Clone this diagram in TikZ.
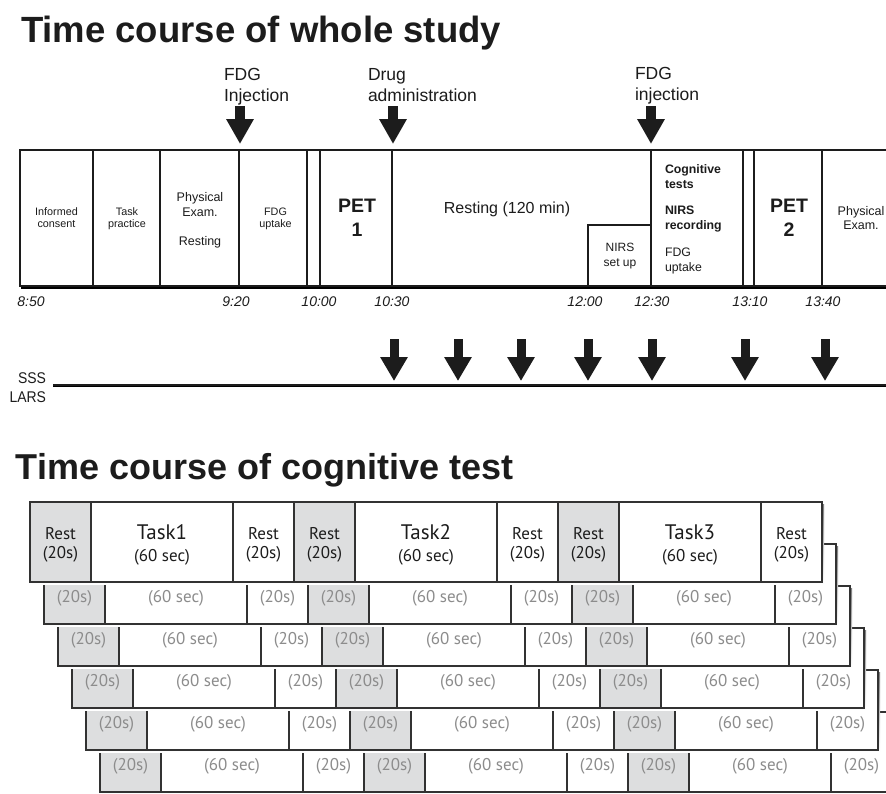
\documentclass[tikz,border=0pt]{standalone}
\usepackage{fontspec}
\setmainfont{Liberation Sans}
\newfontfamily\ptsans{PT Sans}
\usetikzlibrary{arrows.meta}
\definecolor{restgray}{RGB}{221,222,223}
\definecolor{celledge}{RGB}{50,50,50}
\definecolor{faint}{RGB}{140,140,140}
\definecolor{shade}{RGB}{212,212,212}
\definecolor{ink}{RGB}{28,28,28}
\newcommand\fsz[2]{\fontsize{#1}{#2}\selectfont}
\tikzset{
  frame/.style={draw=ink, line width=1.8pt},
  lbl/.style={inner sep=0pt, outer sep=0pt, align=center, text=ink},
  blockarrow/.style={line width=9.5pt, draw=ink, -{Triangle[length=25pt,width=26pt]}},
  smallarrow/.style={line width=9pt, draw=ink, -{Triangle[length=24pt,width=26pt]}},
  cell/.style={draw=celledge, line width=1.3pt, inner sep=0pt, outer sep=0pt, anchor=north west, minimum height=80pt},
  celltext/.style={inner sep=0pt, outer sep=0pt, align=center, font=\ptsans\fsz{17}{20}},
  tick/.style={inner sep=0pt, outer sep=0pt, anchor=base, font=\itshape\fsz{14}{14}, text=ink}
}
\begin{document}
\begin{tikzpicture}[x=1pt,y=-1pt]
\useasboundingbox (0,0) rectangle (886,793);
\clip (0,0) rectangle (886,793);
\fill[white] (0,0) rectangle (886,793);

% titles
\node[lbl, anchor=base west, font=\bfseries\fsz{36.5}{40}] (title1) at (21,42) {Time course of whole study};
\node[lbl, anchor=base west, font=\bfseries\fsz{36}{40}] (title2) at (16,479) {Time course of cognitive test};

% event labels and arrows at top
\node[lbl, anchor=north west, align=left, font=\fsz{17.5}{21}] (ev1) at (224,68) {FDG\\Injection};
\node[lbl, anchor=north west, align=left, font=\fsz{17.5}{21}] (ev2) at (368,68) {Drug\\administration};
\node[lbl, anchor=north west, align=left, font=\fsz{17.5}{21}] (ev3) at (635,67) {FDG\\injection};
\coordinate (a1s) at (240,106); \coordinate (a1e) at (240,144);
\coordinate (a2s) at (393,106); \coordinate (a2e) at (393,144);
\coordinate (a3s) at (651,106); \coordinate (a3e) at (651,144);
\draw[blockarrow] (a1s) -- (a1e);
\draw[blockarrow] (a2s) -- (a2e);
\draw[blockarrow] (a3s) -- (a3e);

% timeline frame
\draw[shade, line width=1.5pt] (21,287.8) -- (886,287.8);
\draw[frame] (890,150) -- (20,150) -- (20,286) -- (890,286);
\foreach \vx in {93,160,239,307,320,392,651,743,754,822}
  \draw[frame] (\vx,150) -- (\vx,286);
\draw[frame] (588,286) -- (588,225) -- (651,225);

% timeline texts
\node[lbl, anchor=north, font=\fsz{10.8}{12}] (consent) at (56.5,208) {Informed\\consent};
\node[lbl, anchor=north, font=\fsz{10.8}{12}] (practice) at (127,208) {Task\\practice};
\node[lbl, anchor=north, font=\fsz{12.5}{15}] (phys1) at (200,192) {Physical\\Exam.\\[14pt]Resting};
\node[lbl, anchor=north, font=\fsz{10.8}{12}] (uptake1) at (275.5,208) {FDG\\uptake};
\node[lbl, anchor=north, font=\bfseries\fsz{19.5}{24}] (pet1) at (357,199) {PET\\1};
\node[lbl, anchor=north, font=\fsz{16}{16}] (rest120) at (507,202) {Resting (120 min)};
\node[lbl, anchor=north, font=\fsz{12}{15}] (nirsset) at (620,243) {NIRS\\set up};
\node[lbl, anchor=north west, align=left, font=\fsz{12.3}{15}] (cogn) at (665,165)
  {\textbf{Cognitive}\\\textbf{tests}\\[11pt]\textbf{NIRS}\\\textbf{recording}\\[12pt]FDG\\uptake};
\node[lbl, anchor=north, font=\bfseries\fsz{19.5}{24}] (pet2) at (789,199) {PET\\2};
\node[lbl, anchor=north, font=\fsz{12.5}{14}] (phys2) at (861,206) {Physical\\Exam.};

% time ticks
\node[tick] (t850) at (31,306) {8:50};
\node[tick] (t920) at (236,306) {9:20};
\node[tick] (t1000) at (319,306) {10:00};
\node[tick] (t1030) at (392,306) {10:30};
\node[tick] (t1200) at (585,306) {12:00};
\node[tick] (t1230) at (652,306) {12:30};
\node[tick] (t1310) at (750,306) {13:10};
\node[tick] (t1340) at (823,306) {13:40};

% SSS / LARS line
\node[lbl, anchor=base east, font=\fsz{15.5}{15}] (sss) at (46,383) {\scalebox{0.9}[1]{SSS}};
\node[lbl, anchor=base east, font=\fsz{15.5}{15}] (lars) at (46,402) {\scalebox{0.9}[1]{LARS}};
\coordinate (sL) at (53,385); \coordinate (sR) at (886,385);
\draw[shade, line width=1.2pt] (53,386.8) -- (886,386.8);
\draw[ink, line width=2pt] (sL) -- (sR);
\foreach \bx [count=\k] in {394,458,521,588,652,745,825} {
  \coordinate (bt\k) at (\bx,339);
  \coordinate (bb\k) at (\bx,381);
  \draw[smallarrow] (bt\k) -- (bb\k);
}

% stacked cognitive test rows (back to front)
\foreach \i in {5,4,3,2,1} {
  \pgfmathsetmacro\xo{30+14*\i}
  \pgfmathsetmacro\yo{502+42*\i}
  \fill[shade] (\xo+2,\yo+2) rectangle ++(792,80);
  \foreach \ca/\cw/\cf/\cl [count=\j] in {0/61/restgray/{(20s)}, 61/142/white/{(60 sec)}, 203/61/white/{(20s)}, 264/61/restgray/{(20s)}, 325/142/white/{(60 sec)}, 467/61/white/{(20s)}, 528/61/restgray/{(20s)}, 589/142/white/{(60 sec)}, 731/61/white/{(20s)}} {
    \node[cell, fill=\cf, minimum width=\cw*1pt] (c\i-\j) at (\xo+\ca,\yo) {};
    \node[celltext, text=faint] (t\i-\j) at (\xo+\ca+\cw/2,\yo+54) {\cl};
  }
}
\fill[shade] (32,504) rectangle ++(792,80);
\foreach \ca/\cw/\cf/\cl [count=\j] in {0/61/restgray/Rest, 61/142/white/Task1, 203/61/white/Rest, 264/61/restgray/Rest, 325/142/white/Task2, 467/61/white/Rest, 528/61/restgray/Rest, 589/142/white/Task3, 731/61/white/Rest} {
  \node[cell, fill=\cf, minimum width=\cw*1pt] (c0-\j) at (30+\ca,502) {};
  \ifnum\cw>100
    \node[celltext, text=ink, font=\ptsans\fsz{17}{22}] (t0-\j) at (30+\ca+\cw/2,545) {{\fsz{21}{22}\cl}\\(60 sec)};
  \else
    \node[celltext, text=ink, font=\ptsans\fsz{17}{19.5}] (t0-\j) at (30+\ca+\cw/2,545) {\cl\\(20s)};
  \fi
}
\end{tikzpicture}
\end{document}
